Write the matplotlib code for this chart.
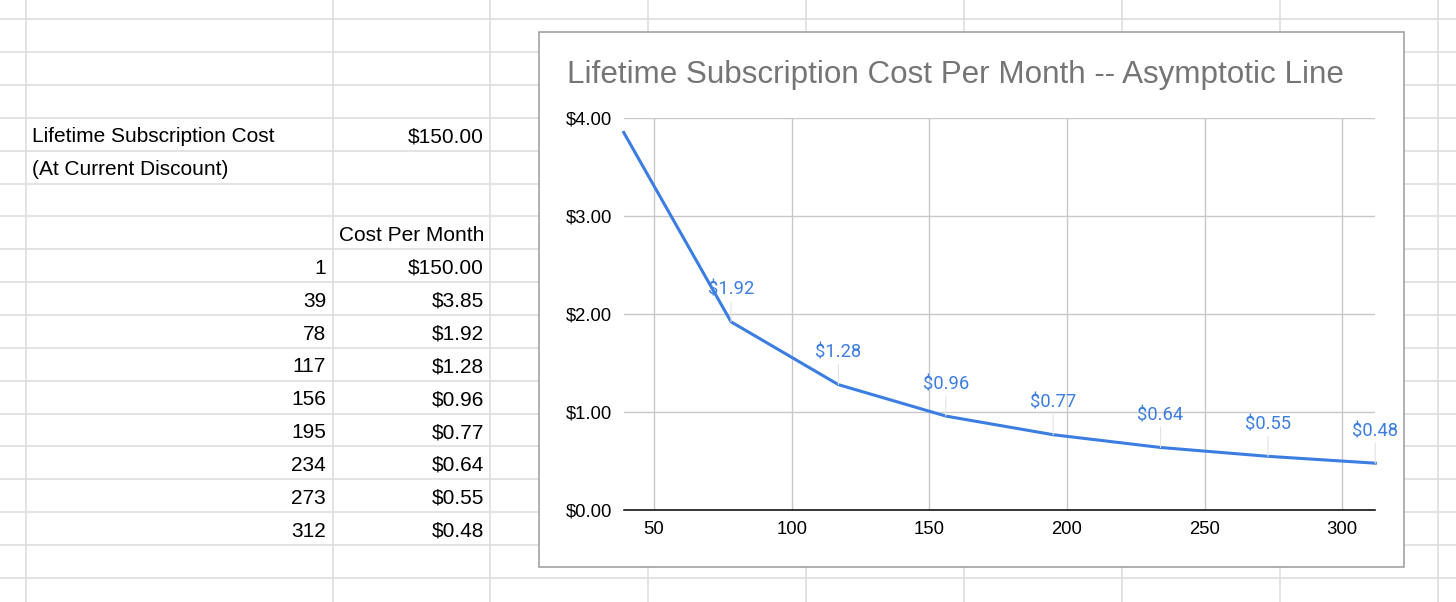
import matplotlib
matplotlib.use("Agg")
import matplotlib.pyplot as plt
from matplotlib.patches import Rectangle
from matplotlib.ticker import FuncFormatter

# spreadsheet values
lifetime_cost = 150.00
table_months = [1, 39, 78, 117, 156, 195, 234, 273, 312]
table_costs = [150.00, 3.85, 1.92, 1.28, 0.96, 0.77, 0.64, 0.55, 0.48]

# chart skips the first row (1 month)
chart_months = table_months[1:]
chart_costs = table_costs[1:]
x_ticks = [50, 100, 150, 200, 250, 300]
y_ticks = [0, 1, 2, 3, 4]

title = "Lifetime Subscription Cost Per Month -- Asymptotic Line"
sans = ["Liberation Sans", "DejaVu Sans"]
label_font = ["Roboto", "DejaVu Sans"]
blue = "#3b7de0"

W, H = 1456, 602
fig = plt.figure(figsize=(W / 100, H / 100), dpi=100)

# background "sheet" in pixel coords
bg = fig.add_axes([0, 0, 1, 1])
bg.set_xlim(0, W)
bg.set_ylim(H, 0)
bg.axis("off")

row_lines = [19.3 + 32.85 * k for k in range(18)]
col_lines = [25.5, 332.5, 490, 648, 806, 964, 1122, 1280, 1438]
bg.hlines(row_lines, 0, W, color="#dedede", lw=1.2, zorder=1)
bg.vlines(col_lines, 0, H, color="#dedede", lw=1.2, zorder=1)

def row_base(k):
    return row_lines[k] - 8.3

fs = 15.0
bg.text(32, row_base(4), "Lifetime Subscription Cost", fontsize=fs, family=sans,
        va="baseline", ha="left", color="black")
bg.text(484, row_base(4), f"${lifetime_cost:.2f}", fontsize=fs, family=sans,
        va="baseline", ha="right", color="black")
bg.text(32, row_base(5), "(At Current Discount)", fontsize=fs, family=sans,
        va="baseline", ha="left", color="black")
bg.text(484, row_base(7), "Cost Per Month", fontsize=fs, family=sans,
        va="baseline", ha="right", color="black")
for i, (m, c) in enumerate(zip(table_months, table_costs)):
    bg.text(326, row_base(8 + i), str(m), fontsize=fs, family=sans,
            va="baseline", ha="right", color="black")
    bg.text(484, row_base(8 + i), f"${c:.2f}", fontsize=fs, family=sans,
            va="baseline", ha="right", color="black")

# chart card
bg.add_patch(Rectangle((538.5, 31.5), 865, 535, facecolor="white",
                       edgecolor="#9a9a9a", lw=1.1, zorder=5))
bg.text(567, 83.3, title, fontsize=22.55, family=sans, color="#757575",
        va="baseline", ha="left", zorder=6)

# plot area
left, right, top, bottom = 623.7, 1375.3, 117.7, 510.3
ax = fig.add_axes([left / W, (H - bottom) / H, (right - left) / W, (bottom - top) / H])
ax.patch.set_alpha(0)
ax.plot(chart_months, chart_costs, color=blue, lw=2.2, zorder=4,
        solid_joinstyle="round", clip_on=False)
ax.set_xlim(chart_months[0], chart_months[-1])
ax.set_ylim(0, 4)
ax.set_xticks(x_ticks)
ax.set_yticks(y_ticks)
ax.yaxis.set_major_formatter(FuncFormatter(lambda v, p: f"${v:.2f}"))
ax.grid(True, color="#c8c8c8", lw=1.0)
ax.set_axisbelow(True)
for s in ["top", "right", "left"]:
    ax.spines[s].set_visible(False)
ax.spines["bottom"].set_color("black")
ax.spines["bottom"].set_linewidth(1.1)
ax.spines["bottom"].set_zorder(3)
ax.tick_params(length=0, labelsize=13.3, colors="black")
ax.tick_params(axis="y", pad=8.5)
ax.tick_params(axis="x", pad=8.0)
for lab in ax.get_xticklabels() + ax.get_yticklabels():
    lab.set_family(sans)

# data labels with faint leader lines (skip the first point)
for m, c in zip(chart_months[1:], chart_costs[1:]):
    ax.annotate(f"${c:.2f}", xy=(m, c), xytext=(0, 19.4), textcoords="offset points",
                ha="center", va="baseline", fontsize=13.2, family=label_font,
                color=blue, zorder=6, annotation_clip=False,
                arrowprops=dict(arrowstyle="-", color="#e3e3e3", lw=0.8,
                                shrinkA=0, shrinkB=0, relpos=(0.5, 0)))

fig.savefig("out.png", dpi=100)
